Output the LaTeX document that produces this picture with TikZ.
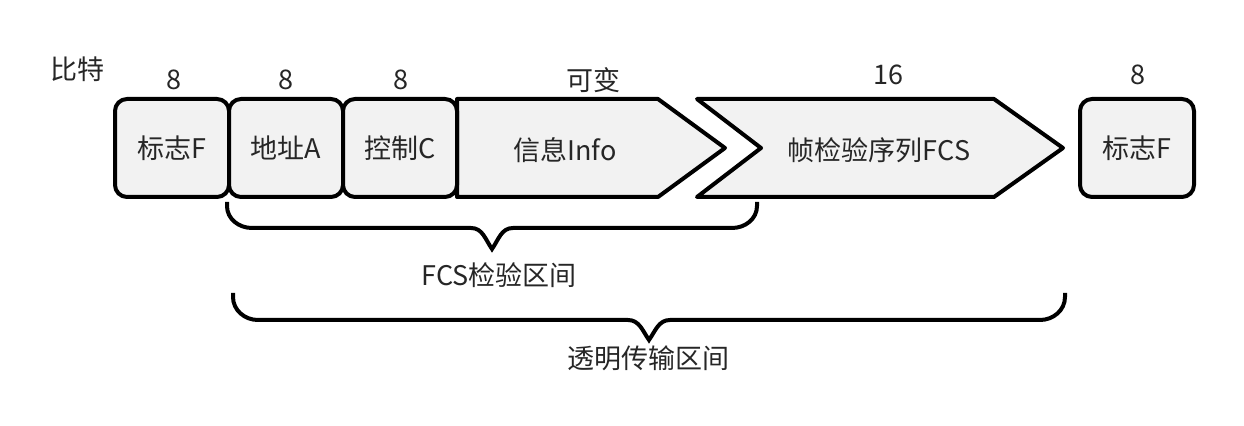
\documentclass[tikz,border=0pt]{standalone}
\usepackage{fontspec}
\setmainfont{Noto Sans CJK SC}
\usetikzlibrary{positioning, calc}
\definecolor{cell}{HTML}{F2F2F2}
\definecolor{ink}{HTML}{262626}

\begin{document}
\begin{tikzpicture}[
    x=0.5pt, y=-0.5pt,
    font=\fontsize{13.5}{16}\selectfont,
    text=ink,
    field/.style={draw=black, fill=cell, line width=2pt, rounded corners=6pt,
                  minimum width=57pt, minimum height=49pt, inner sep=0pt},
    arrowfield/.style={draw=black, fill=cell, line width=2pt, line join=round},
    bits/.style={inner sep=0pt},
    span/.style={draw=black, line width=2pt},
]
\useasboundingbox (0,0) rectangle (1244,426);

% frame fields
\node[bits] (unit) at (77,69) {比特};

\draw[arrowfield] (457,99) -- (658,99) -- (725,148) -- (658,197) -- (457,197) -- cycle;
\draw[arrowfield] (697,99) -- (994,99) -- (1063,148) -- (994,197) -- (697,197) -- (761,148) -- cycle;

\node[field] (flag1) at (172,148) {标志F};
\node[field] (addr)  at (286,148) {地址A};
\node[field] (ctrl)  at (400,148) {控制C};
\node[bits]  (info)  at (565,150) {信息Info};
\node[bits]  (fcs)   at (879,150) {帧检验序列FCS};
\node[field] (flag2) at (1137,148) {标志F};

% bit counts
\node[bits] (n1) at (174,80)  {8};
\node[bits] (n2) at (286,80)  {8};
\node[bits] (n3) at (401,80)  {8};
\node[bits] (n4) at (593,80)  {可变};
\node[bits] (n5) at (888,75)  {16};
\node[bits] (n6) at (1138,75) {8};

% braces
\draw[span] (227,202) -- (227,206) to[out=-90,in=180] (252,228) -- (471,228)
    to[out=0,in=125] (492,249) to[out=55,in=180] (513,228) -- (732,228)
    to[out=0,in=-90] (757,206) -- (757,202);
\node[bits] (chk) at (499,275) {FCS检验区间};

\draw[span] (233,293) -- (233,297) to[out=-90,in=180] (258,320) -- (628,320)
    to[out=0,in=125] (649,340) to[out=55,in=180] (670,320) -- (1040,320)
    to[out=0,in=-90] (1065,297) -- (1065,293);
\node[bits] (trans) at (648,358) {透明传输区间};

\end{tikzpicture}
\end{document}
